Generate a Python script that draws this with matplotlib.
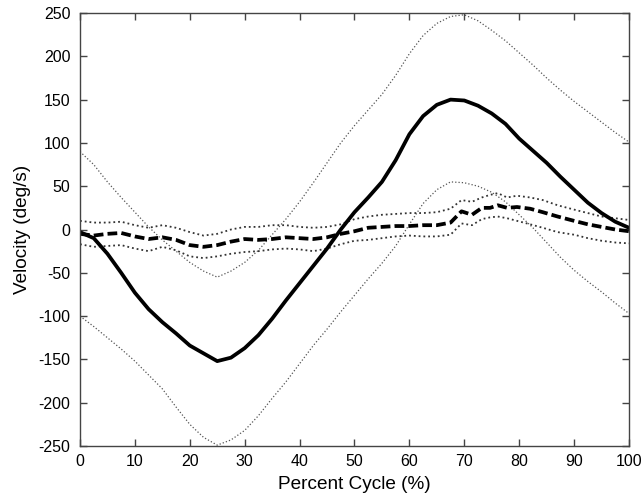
import numpy as np
import matplotlib
matplotlib.use('Agg')
import matplotlib.pyplot as plt

plt.rcParams['font.family'] = ['Liberation Sans', 'DejaVu Sans']
plt.rcParams['axes.unicode_minus'] = False

# Velocidad media (linea continua) y +/- 1 DE (punteado fino)
x_pct = [0, 2.5, 5, 7.5, 10, 12.5, 15, 17.5, 20, 22.5, 25, 27.5, 30, 32.5, 35,
         37.5, 40, 42.5, 45, 47.5, 50, 52.5, 55, 57.5, 60, 62.5, 65, 67.5, 70,
         72.5, 75, 77.5, 80, 82.5, 85, 87.5, 90, 92.5, 95, 97.5, 100]
vel_media = [-3, -10, -28, -50, -73, -92, -107, -120, -134, -143, -152, -148,
             -137, -122, -103, -82, -62, -42, -22, 0, 20, 37, 55, 80, 110, 131,
             144, 150, 149, 143, 134, 122, 105, 91, 77, 61, 46, 31, 19, 9, 2]
vel_sup = [90, 75, 55, 37, 20, 3, -12, -25, -38, -48, -55, -48, -38, -24, -6,
           12, 32, 54, 77, 100, 120, 138, 156, 178, 203, 224, 238, 246, 248,
           241, 230, 218, 204, 190, 175, 161, 148, 136, 124, 112, 101]
vel_inf = [-100, -112, -125, -138, -152, -168, -184, -205, -225, -240, -249,
           -243, -232, -215, -195, -176, -155, -134, -115, -95, -76, -57, -39,
           -19, 6, 30, 46, 55, 54, 50, 43, 32, 17, 2, -15, -32, -47, -60, -72,
           -85, -97]

# Segunda velocidad (linea discontinua) y sus bandas
x_b = [0, 2.5, 5, 7.5, 10, 12.5, 15, 17.5, 20, 22.5, 25, 27.5, 30, 32.5, 35,
       37.5, 40, 42.5, 45, 47.5, 50, 52.5, 55, 57.5, 60, 62.5, 65, 67.5, 69.5,
       71.4, 73.2, 74.7, 76.1, 77.8, 79.6, 82, 84.3, 87, 90, 92.5, 95, 97.5, 100]
vel_b = [-5, -7, -5, -4, -8, -11, -9, -12, -18, -20, -18, -14, -11, -12, -11,
         -9, -10, -11, -9, -5, -2, 2, 3, 4, 4, 5, 5, 8, 21, 17, 25, 25, 28, 25,
         26, 24, 20, 15, 10, 6, 3, 0, -2]
vel_b_sup = [10, 8, 8, 9, 5, 2, 5, 2, -3, -7, -5, 0, 3, 3, 5, 5, 3, 2, 3, 6,
             12, 15, 17, 18, 19, 19, 20, 24, 34, 32, 37, 40, 42, 37, 39, 37,
             34, 28, 23, 19, 15, 13, 11]
vel_b_inf = [-17, -20, -19, -18, -22, -25, -20, -24, -31, -33, -31, -28, -26,
             -25, -23, -22, -23, -25, -22, -17, -13, -12, -10, -8, -7, -8, -8,
             -6, 7, 5, 12, 14, 15, 13, 10, 6, 2, -3, -6, -10, -13, -15, -16]

fig = plt.figure(figsize=(6.43, 5.01), dpi=100)
ax = fig.add_axes([0.1244, 0.1098, 0.8538, 0.8642])

ax.plot(x_pct, vel_sup, color='#555555', linestyle=':', linewidth=0.9)
ax.plot(x_pct, vel_inf, color='#555555', linestyle=':', linewidth=0.9)
ax.plot(x_b, vel_b_sup, color='#333333', linestyle=':', linewidth=1.3)
ax.plot(x_b, vel_b_inf, color='#333333', linestyle=':', linewidth=1.3)
ax.plot(x_pct, vel_media, color='black', linewidth=2.7)
ax.plot(x_b, vel_b, color='black', linewidth=2.7, linestyle=(0, (2.6, 1.1)))

ax.set_xlim(0, 100)
ax.set_ylim(-250, 250)
ax.set_xticks(np.arange(0, 101, 10))
ax.set_yticks(np.arange(-250, 251, 50))
ax.tick_params(direction='in', top=True, right=True, length=5, width=1,
               labelsize=11.5, color='#444444')
ax.tick_params(axis='x', pad=6)
ax.tick_params(axis='y', pad=7)
for s in ax.spines.values():
    s.set_color('#444444')
    s.set_linewidth(1)

ax.set_xlabel('Percent Cycle (%)', fontsize=13.7, labelpad=5)
ax.set_ylabel('Velocity (deg/s)', fontsize=13.7, labelpad=5)

fig.savefig('out.png', dpi=100)
